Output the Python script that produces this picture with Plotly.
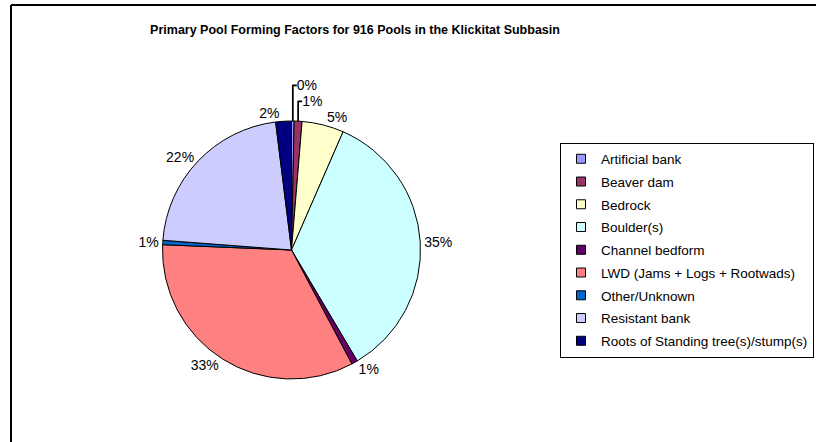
import plotly.graph_objects as go

categories = [
    "Artificial bank",
    "Beaver dam",
    "Bedrock",
    "Boulder(s)",
    "Channel bedform",
    "LWD (Jams + Logs + Rootwads)",
    "Other/Unknown",
    "Resistant bank",
    "Roots of Standing tree(s)/stump(s)",
]
pool_counts = [3, 9, 48, 320, 7, 306, 5, 200, 18]
colors = ["#9999FF", "#993366", "#FFFFCC", "#CCFFFF", "#660066",
          "#FF8080", "#0066CC", "#CCCCFF", "#000080"]
title_text = "Primary Pool Forming Factors for 916 Pools in the Klickitat Subbasin"

W, H = 816, 442
cx, cy, rad = 291.5, 250, 129
FONT = "Liberation Sans, Arial"

fig = go.Figure()
fig.add_trace(go.Pie(
    labels=categories,
    values=pool_counts,
    sort=False,
    direction="clockwise",
    rotation=0,
    marker=dict(colors=colors, line=dict(color="black", width=1)),
    textposition="outside",
    texttemplate="%{percent:.0%}",
    textfont=dict(family=FONT, size=14, color="black"),
    domain=dict(x=[(cx - rad) / W, (cx + rad) / W],
                y=[1 - (cy + rad) / H, 1 - (cy - rad) / H]),
    hoverinfo="label+value+percent",
    showlegend=False,
))

# legend entries (one per category, same colours as the slices)
for i, (name, col) in enumerate(zip(categories, colors)):
    fig.add_trace(go.Scatter(
        x=[None], y=[None], mode="markers", name=name,
        legendgroup=f"g{i}",
        marker=dict(symbol="square", size=9, color=col,
                    line=dict(color="black", width=1)),
        hoverinfo="skip",
    ))

fig.update_layout(
    width=W, height=H,
    margin=dict(l=0, r=0, t=0, b=0),
    paper_bgcolor="white",
    plot_bgcolor="white",
    font=dict(family=FONT, color="black"),
    xaxis=dict(visible=False),
    yaxis=dict(visible=False),
    title=dict(text="<b>" + title_text + "</b>", x=355 / W, xanchor="center",
               y=1 - 30 / H, yanchor="middle",
               font=dict(size=12.5, family=FONT, color="black")),
    legend=dict(x=560 / W, xanchor="left", y=1 - 250 / H, yanchor="middle",
                bordercolor="black", borderwidth=1, bgcolor="white",
                font=dict(size=13.5, family=FONT, color="black"),
                traceorder="grouped", tracegroupgap=2.2),
    shapes=[
        dict(type="line", xref="paper", yref="paper", x0=11 / W, x1=11 / W,
             y0=0, y1=1 - 5 / H, line=dict(color="black", width=2)),
        dict(type="line", xref="paper", yref="paper", x0=11 / W, x1=1,
             y0=1 - 5 / H, y1=1 - 5 / H, line=dict(color="black", width=2)),
    ],
)

fig.write_html(
    "out.html",
    config={"displayModeBar": False},
    post_script="document.body.style.margin='0px';document.body.style.overflow='hidden';",
)
